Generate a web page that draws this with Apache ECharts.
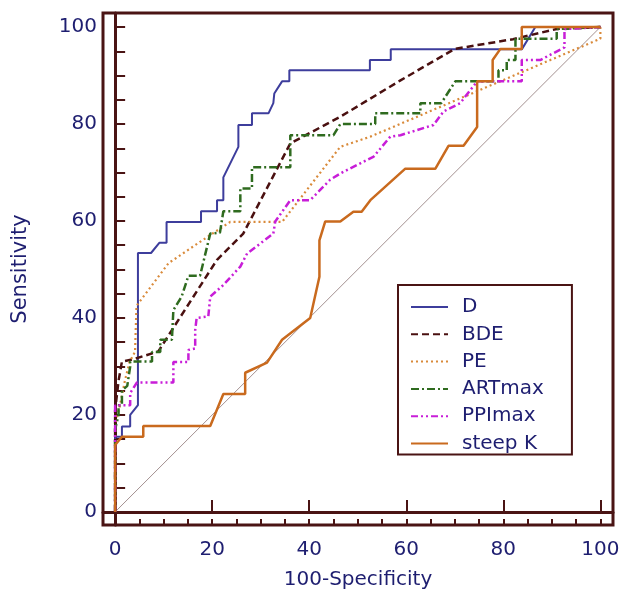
<!DOCTYPE html>
<html>
<head>
<meta charset="utf-8">
<script src="https://cdn.jsdelivr.net/npm/echarts@6/dist/echarts.min.js"></script>
<style>
  html, body { margin: 0; padding: 0; background: #fff; }
  #chart { width: 619px; height: 589px; }
</style>
</head>
<body>
<div id="chart"></div>
<script>
// ROC points, [100-Specificity, Sensitivity]
const seriesNames = ['D', 'BDE', 'PE', 'ARTmax', 'PPImax', 'steep K']
const xTickLabels = [0, 20, 40, 60, 80, 100]
const yTickLabels = [0, 20, 40, 60, 80, 100]

const rocD = [[0,0],[0,15.5],[1.4,15.5],[1.4,17.6],[3.1,17.6],[3.1,20],[4.7,22],[4.7,53.4],[7.4,53.4],[9.1,55.5],[10.6,55.5],[10.6,59.8],[17.7,59.8],[17.7,62],[21,62],[21,64.3],[22.3,64.3],[22.3,69],[25.4,75.3],[25.4,79.8],[28.2,79.8],[28.2,82.2],[31.6,82.2],[32.6,84.3],[32.8,86.3],[34.4,88.8],[35.9,88.8],[35.9,91.1],[52.5,91.1],[52.5,93.2],[56.8,93.2],[56.8,95.4],[83.8,95.4],[86.6,100],[100,100]]
const rocBDE = [[0,0],[0,21],[0.7,27],[1.4,31],[3.8,31.5],[8.9,33.1],[11.7,37.5],[21,52],[26.4,57.4],[36.1,76],[46.4,81.5],[58.8,89],[70,95.5],[82,97.5],[91,99.6],[100,100]]
const rocPE = [[0,0],[0,18],[1,22],[2,27],[3,31],[4.1,33],[4.4,42.5],[11,51.3],[17.5,55.7],[23.7,59.8],[34.4,59.8],[46.4,75.3],[52.6,77.4],[100,97.6],[100,100]]
const rocART = [[0,0],[0,17],[0.7,20],[0.7,22],[1.4,22],[1.4,25],[2.5,26],[3.1,30],[3.1,31],[7.6,31],[7.6,33],[9.3,33],[9.3,35.5],[11.7,35.5],[12,41.6],[13.7,44.4],[15.1,48.7],[17.5,48.7],[19.6,57.4],[21.6,57.6],[22.3,62],[25.8,62],[25.8,66.7],[28.2,66.7],[28.2,71.1],[36.1,71.1],[36.1,77.7],[45,77.7],[46.4,80],[53.6,80],[53.6,82.2],[62.9,82.2],[62.9,84.3],[67.2,84.3],[70.1,88.8],[79,88.8],[79,91.1],[80.7,91.1],[80.7,93.2],[82.5,93.2],[82.5,97.6],[91,97.6],[91,99.6],[100,100]]
const rocPPI = [[0,0],[0,15.2],[0,22],[3.1,22],[3.1,24.5],[4.5,26.7],[12,26.7],[12,30.9],[15.1,30.9],[15.1,33.4],[16.5,33.7],[16.5,37.5],[16.8,40],[19.2,40.3],[19.6,44.4],[22.3,46.8],[25.8,50.6],[27.2,53.3],[32.6,57.4],[33,59.9],[36.1,64.3],[40.2,64.3],[44.3,68.5],[46.4,69.8],[53.3,73.3],[56.7,77.4],[58.8,77.7],[65.6,79.8],[67.7,82.6],[71.1,84.3],[74.6,88.8],[83.8,88.8],[83.8,93.2],[87.6,93.2],[92.6,95.8],[92.6,99.6],[100,100]]
const rocSteepK = [[0,0],[0,13.8],[1.4,15.5],[5.8,15.5],[5.8,17.7],[19.6,17.7],[22.3,24.3],[26.8,24.3],[26.8,28.7],[31.3,30.8],[34.4,35.5],[40.2,40],[42.1,48.5],[42.1,56],[43.3,59.9],[46.4,59.9],[49.1,61.9],[50.8,61.9],[52.6,64.3],[59.8,70.8],[66,70.8],[68.7,75.5],[71.8,75.5],[74.6,79.4],[74.6,88.8],[77.8,88.8],[77.8,93.2],[79.4,95.5],[83.8,95.5],[83.8,100],[100,100]]
const diagonal = [[0,0],[100,100]]

const axisColor = '#4a1414'
const labelColor = '#1e1e70'
const fontFamily = 'DejaVu Sans'

const seriesData = [rocD, rocBDE, rocPE, rocART, rocPPI, rocSteepK]
const seriesColors = ['#3d3d9c', '#4a1010', '#d98a3a', '#2f6b1f', '#c81ed8', '#c96a1e']
const seriesWidths = [2, 2.5, 2.2, 2.5, 2.5, 2.5]
const seriesDash = ['solid', [7, 4], [2, 3], [8, 3, 2, 3], [7, 3, 2, 3, 2, 3], 'solid']

const chart = echarts.init(document.getElementById('chart'), null, { renderer: 'canvas' })

const fifths = []
for (let v = 0; v <= 100; v += 5) fifths.push(v)

const lineSeries = seriesNames.map((name, i) => ({
  name,
  type: 'line',
  data: seriesData[i],
  symbol: 'none',
  showSymbol: false,
  z: 3 + i,
  lineStyle: { color: seriesColors[i], width: seriesWidths[i], type: seriesDash[i] },
  itemStyle: { color: seriesColors[i] }
}))

chart.setOption({
  animation: false,
  backgroundColor: '#fff',
  textStyle: { fontFamily },
  grid: {
    left: 103, right: 6, top: 13, bottom: 64,
    containLabel: false,
    outerBoundsMode: 'none',
    show: true, borderColor: axisColor, borderWidth: 3, backgroundColor: 'transparent'
  },
  legend: {
    data: seriesNames,
    orient: 'vertical',
    left: 398, top: 285,
    backgroundColor: '#fff',
    borderColor: axisColor,
    borderWidth: 2,
    borderRadius: 0,
    padding: [12, 28, 1, 12],
    itemWidth: 37,
    itemHeight: 20,
    itemGap: 7.3,
    itemStyle: { opacity: 0 },
    lineStyle: { width: 2 },
    textStyle: { fontSize: 20, color: labelColor, fontFamily, lineHeight: 20, padding: [0, 0, 0, 9] }
  },
  xAxis: [
    {
      type: 'value', min: -2.5, max: 102.6,
      name: '100-Specificity', nameLocation: 'middle', nameGap: 45,
      nameTextStyle: { fontSize: 20, color: labelColor, fontFamily },
      axisLine: { lineStyle: { color: axisColor, width: 3 } },
      axisTick: { inside: true, length: 12, customValues: xTickLabels, lineStyle: { color: axisColor, width: 2 } },
      axisLabel: { customValues: xTickLabels, fontSize: 20, color: labelColor, margin: 15, fontFamily },
      splitLine: { show: false }
    },
    {
      type: 'value', min: -2.5, max: 102.6, position: 'bottom',
      axisLine: { show: false },
      axisTick: { inside: true, length: 6, customValues: fifths, lineStyle: { color: axisColor, width: 2 } },
      axisLabel: { show: false },
      splitLine: { show: false }
    }
  ],
  yAxis: [
    {
      type: 'value', min: -2.7, max: 102.9,
      name: 'Sensitivity', nameLocation: 'middle', nameGap: 72, nameRotate: 90,
      nameTextStyle: { fontSize: 21, color: labelColor, fontFamily },
      axisLine: { lineStyle: { color: axisColor, width: 3 } },
      axisTick: { inside: true, length: 10, customValues: fifths, lineStyle: { color: axisColor, width: 2 } },
      axisLabel: { customValues: yTickLabels, fontSize: 20, color: labelColor, margin: 6, fontFamily },
      splitLine: { show: false }
    }
  ],
  series: [
    {
      name: 'reference',
      type: 'line',
      data: diagonal,
      symbol: 'none',
      z: 2,
      lineStyle: { color: '#8c7474', width: 0.8 },
      silent: true
    },
    ...lineSeries
  ]
})
</script>
</body>
</html>
